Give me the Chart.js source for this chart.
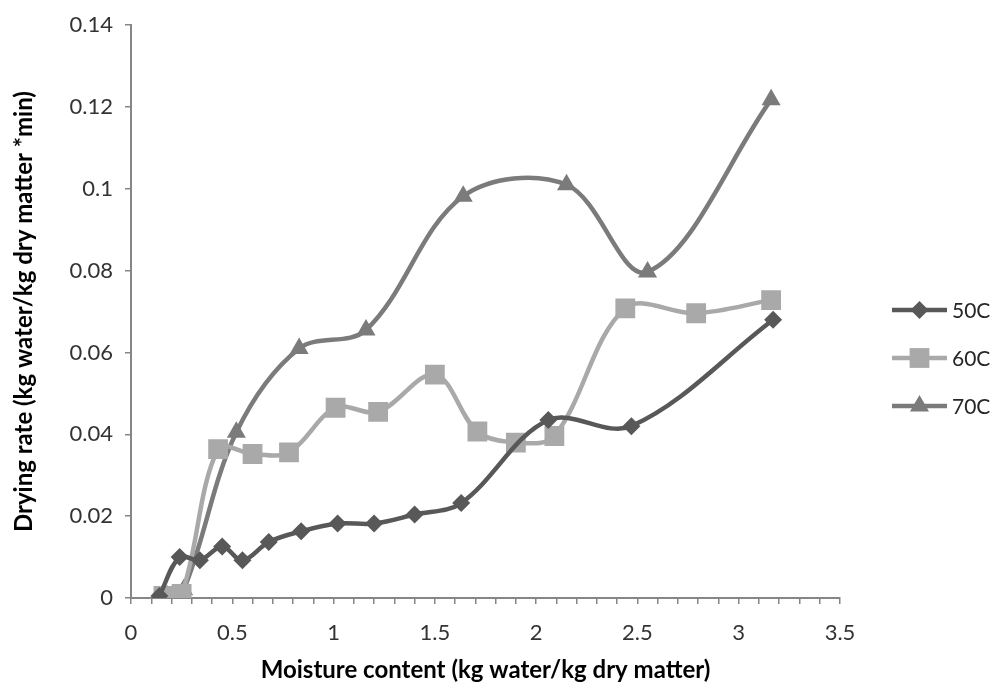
<!DOCTYPE html>
<html>
<head>
<meta charset="utf-8">
<script src="https://cdn.jsdelivr.net/npm/chart.js@4.4.0/dist/chart.umd.min.js"></script>
<style>
  html, body { margin: 0; padding: 0; background: #fff; }
  #wrap { width: 1002px; height: 689px; }
</style>
</head>
<body>
<div id="wrap"><canvas id="dryingChart" width="1002" height="689"></canvas></div>
<script>
// moisture content (kg water/kg dry matter) vs drying rate, one pair per temperature
const moisture50 = [0.14, 0.24, 0.34, 0.45, 0.55, 0.68, 0.84, 1.02, 1.20, 1.40, 1.63, 2.06, 2.47, 3.17];
const rate50     = [0.0005, 0.0100, 0.0092, 0.0126, 0.0092, 0.0137, 0.0163, 0.0182, 0.0182, 0.0204, 0.0232, 0.0435, 0.0420, 0.0680];

const moisture60 = [0.16, 0.25, 0.43, 0.60, 0.78, 1.01, 1.22, 1.50, 1.71, 1.90, 2.09, 2.44, 2.79, 3.16];
const rate60     = [0.0005, 0.0010, 0.0364, 0.0352, 0.0356, 0.0465, 0.0455, 0.0546, 0.0407, 0.0380, 0.0396, 0.0708, 0.0696, 0.0728];

const moisture70 = [0.18, 0.26, 0.52, 0.83, 1.16, 1.64, 2.15, 2.55, 3.16];
const rate70     = [0.0005, 0.0020, 0.0405, 0.0610, 0.0655, 0.0982, 0.1010, 0.0797, 0.1218];

const seriesNames = ['50C', '60C', '70C'];
const xTickLabels = ['0', '0.5', '1', '1.5', '2', '2.5', '3', '3.5'];
const yTickLabels = ['0', '0.02', '0.04', '0.06', '0.08', '0.1', '0.12', '0.14'];
const xMinorStep = 0.1;   // small tick marks along the x axis, labels every 0.5

const FONT = "Lato, 'Open Sans', sans-serif";
const AXIS_GREY = '#868686';

function pairs(xs, ys) {
  return xs.map((x, i) => ({ x: x, y: ys[i] }));
}

function series(label, data, color, style, radius) {
  return {
    label: label,
    data: data,
    borderColor: color,
    backgroundColor: color,
    borderWidth: 4.5,
    tension: 0.35,
    pointStyle: style,
    pointRadius: radius,
    pointBackgroundColor: color,
    pointBorderColor: color,
    pointBorderWidth: 0,
  };
}

// legend on the right: short line with the marker in the middle, then the name
const sideLegend = {
  id: 'sideLegend',
  afterDraw(chart) {
    const ctx = chart.ctx;
    const x0 = 892, x1 = 947;
    const rows = [310, 358, 406];
    chart.data.datasets.forEach((ds, i) => {
      const y = rows[i];
      ctx.save();
      ctx.strokeStyle = ds.borderColor;
      ctx.lineWidth = 4.5;
      ctx.beginPath();
      ctx.moveTo(x0, y);
      ctx.lineTo(x1, y);
      ctx.stroke();
      ctx.fillStyle = ds.borderColor;
      Chart.helpers.drawPoint(ctx, { pointStyle: ds.pointStyle, radius: ds.pointRadius, borderWidth: 0 }, (x0 + x1) / 2, y);
      ctx.fillStyle = '#262626';
      ctx.font = '21px ' + FONT;
      ctx.textBaseline = 'middle';
      ctx.textAlign = 'left';
      ctx.fillText(ds.label, x1 + 5, y + 1);
      ctx.restore();
    });
  }
};

new Chart(document.getElementById('dryingChart').getContext('2d'), {
  type: 'line',
  data: {
    datasets: [
      series(seriesNames[0], pairs(moisture50, rate50), '#585858', 'rectRot', 9),
      series(seriesNames[1], pairs(moisture60, rate60), '#a9a9a9', 'rect', 14),
      series(seriesNames[2], pairs(moisture70, rate70), '#7b7b7b', 'triangle', 11),
    ]
  },
  options: {
    responsive: false,
    animation: false,
    layout: { padding: { top: 22, right: 162, bottom: 0, left: 0 } },
    plugins: {
      legend: { display: false },
      tooltip: { enabled: false }
    },
    scales: {
      x: {
        type: 'linear',
        min: 0,
        max: 3.5,
        afterFit(scale) { scale.height = 91; },
        afterBuildTicks(scale) {
          const n = Math.round((scale.max - scale.min) / xMinorStep);
          const ticks = [];
          for (let i = 0; i <= n; i++) ticks.push({ value: +(scale.min + i * xMinorStep).toFixed(2) });
          scale.ticks = ticks;
        },
        grid: { drawOnChartArea: false, drawTicks: true, tickLength: 6, color: AXIS_GREY, lineWidth: 1.5 },
        border: { color: AXIS_GREY, width: 2 },
        ticks: {
          autoSkip: false,
          maxRotation: 0,
          padding: 16,
          color: '#333',
          font: { family: FONT, size: 22 },
          callback: function (v) {
            const k = Math.round(v * 2);
            return Math.abs(v * 2 - k) < 1e-6 ? xTickLabels[k] : '';
          }
        },
        title: {
          display: true,
          text: 'Moisture content (kg water/kg dry matter)',
          color: '#000',
          font: { family: FONT, size: 24, weight: 'bold' },
          padding: { top: 0, bottom: 4 }
        }
      },
      y: {
        min: 0,
        max: 0.14,
        afterFit(scale) { scale.width = 131; },
        grid: { drawOnChartArea: false, drawTicks: true, tickLength: 6, color: AXIS_GREY, lineWidth: 1.5 },
        border: { color: AXIS_GREY, width: 2 },
        ticks: {
          stepSize: 0.02,
          padding: 12,
          color: '#333',
          font: { family: FONT, size: 22 },
          callback: function (v) {
            return yTickLabels[Math.round(v / 0.02)];
          }
        },
        title: {
          display: true,
          text: 'Drying rate (kg water/kg dry matter *min)',
          color: '#000',
          font: { family: FONT, size: 24, weight: 'bold' },
          padding: { top: 10, bottom: 0 }
        }
      }
    }
  },
  plugins: [sideLegend]
});
</script>
</body>
</html>
